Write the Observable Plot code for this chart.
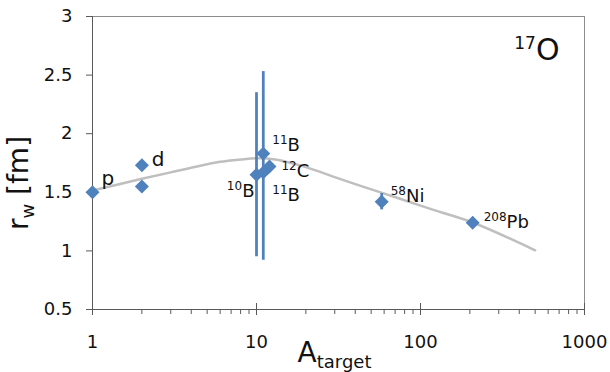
<!DOCTYPE html>
<html><head><meta charset="utf-8">
<script src="https://cdn.jsdelivr.net/npm/d3@7"></script>
<script src="https://cdn.jsdelivr.net/npm/@observablehq/plot@0.6"></script>
<style>body{margin:0;background:#fff} svg{display:block} text{white-space:pre}</style>
</head><body><div id="chart"></div>
<script>
// Target labels ("^" marks a superscript mass number)
const labels = ["p", "d", "", "^10B", "^11B", "^11B", "^12C", "^58Ni", "^208Pb"];
const massNumbers = [1, 2, 2, 10, 11, 11, 12, 58, 208];
const radius = [1.50, 1.73, 1.55, 1.65, 1.83, 1.67, 1.72, 1.42, 1.24];
const errLow = [null, null, null, 0.95, null, 0.92, null, 1.35, null];
const errHigh = [null, null, null, 2.35, null, 2.53, null, 1.49, null];

// Systematics curve (grey line)
const curveA = [1, 2, 3, 4, 6, 8, 10, 13, 20, 30, 40, 75, 120, 210, 500];
const curveR = [1.515, 1.615, 1.67, 1.71, 1.76, 1.78, 1.79, 1.78, 1.715, 1.63, 1.57, 1.445, 1.35, 1.24, 1.005];

const yTicks = [0.5, 1, 1.5, 2, 2.5, 3];
const xTicks = [1, 10, 100, 1000];
const xMinorTicks = [2,3,4,5,6,7,8,9,20,30,40,50,60,70,80,90,200,300,400,500,600,700,800,900];
const projectile = "^17O";
const xTitle = "A_target";
const yTitle = "r_w [fm]";

const points = massNumbers.map((a, i) => ({a, r: radius[i], label: labels[i]}));
const bars = massNumbers.map((a, i) => ({a, lo: errLow[i], hi: errHigh[i]})).filter(d => d.lo != null);
const curve = curveA.map((a, i) => ({a, r: curveR[i]}));

const BLUE = "#4f81bd", AX = "#595959", TXT = "#111";
const lab = (i, o) => Plot.text([points[i]], {x: "a", y: "r", text: "label", textAnchor: "start", lineAnchor: "bottom", fill: TXT, fontSize: 18, ...o});

const svg = Plot.plot({
  width: 610, height: 372,
  marginLeft: 92, marginRight: 26, marginTop: 16, marginBottom: 63,
  style: {fontFamily: "'DejaVu Sans', sans-serif", background: "#fff", color: TXT},
  x: {type: "log", domain: [1, 1000]},
  y: {domain: [0.5, 3]},
  marks: [
    Plot.frame({stroke: "#8c8c8c"}),
    Plot.ruleX([xTicks[0]], {stroke: AX}),
    Plot.ruleY([yTicks[0]], {stroke: AX}),
    Plot.axisY({ticks: yTicks, tickSize: 6, tickPadding: 14, fontSize: 18, stroke: AX, fill: TXT, tickFormat: d => String(d), label: null}),
    Plot.axisX({ticks: xTicks, tickSize: 6, tickPadding: 20, fontSize: 18, stroke: AX, fill: TXT, tickFormat: d => String(d), label: null}),
    Plot.axisX({ticks: xTicks, tickSize: 6, dy: -6, stroke: AX, tickFormat: () => "", label: null}),
    Plot.axisX({ticks: xMinorTicks, tickSize: 5, stroke: AX, tickFormat: () => "", label: null}),
    Plot.line(curve, {x: "a", y: "r", curve: "catmull-rom", stroke: "#bfbfbf", strokeWidth: 2.5}),
    Plot.ruleX(bars, {x: "a", y1: "lo", y2: "hi", stroke: BLUE, strokeWidth: 2.75}),
    Plot.dot(points, {x: "a", y: "r", symbol: "diamond2", r: 6.3, fill: BLUE}),
    lab(0, {dx: 9, dy: -7, fontSize: 20}),
    lab(1, {dx: 10, dy: 1, fontSize: 20}),
    lab(3, {dx: -2, dy: 22, textAnchor: "end"}),
    lab(4, {dx: 9, dy: -3}),
    lab(5, {dx: 9, dy: 29}),
    lab(6, {dx: 12, dy: 10}),
    lab(7, {dx: 9, dy: 0}),
    lab(8, {dx: 11, dy: 5}),
    Plot.text([projectile], {frameAnchor: "top-right", textAnchor: "end", lineAnchor: "bottom", dx: -25, dy: 43, fontSize: 30, fill: TXT}),
    Plot.text([xTitle], {frameAnchor: "bottom", textAnchor: "middle", lineAnchor: "bottom", dx: -4, dy: 52, fontSize: 28, fill: TXT}),
    Plot.text([yTitle], {frameAnchor: "left", textAnchor: "middle", lineAnchor: "bottom", rotate: -90, dx: -65, dy: 20, fontSize: 28, fill: TXT})
  ]
});

// rich text: superscripts (^) and subscripts (_)
d3.select(svg).selectAll("text").each(function () {
  const t = this.textContent;
  const fsEl = this.closest("[font-size]");
  const fs = fsEl ? parseFloat(fsEl.getAttribute("font-size")) : 18;
  const sel = d3.select(this);
  let m;
  if ((m = t.match(/^\^(\d+)(.*)$/))) {
    const big = fs >= 24;
    const ss = big ? 17 : 12, shift = big ? 11 : 7;
    this.textContent = "";
    sel.append("tspan").attr("font-size", ss).attr("dy", -shift).text(m[1]);
    sel.append("tspan").attr("dy", shift).text(m[2]);
  } else if ((m = t.match(/^([^_]+)_(\w+)(.*)$/))) {
    const ss = 18, shift = 6;
    this.textContent = "";
    sel.append("tspan").text(m[1]);
    sel.append("tspan").attr("font-size", ss).attr("dy", shift).text(m[2]);
    if (m[3]) sel.append("tspan").attr("dy", -shift).text(m[3]);
  }
});

document.getElementById("chart").append(svg);
</script>
</body></html>
